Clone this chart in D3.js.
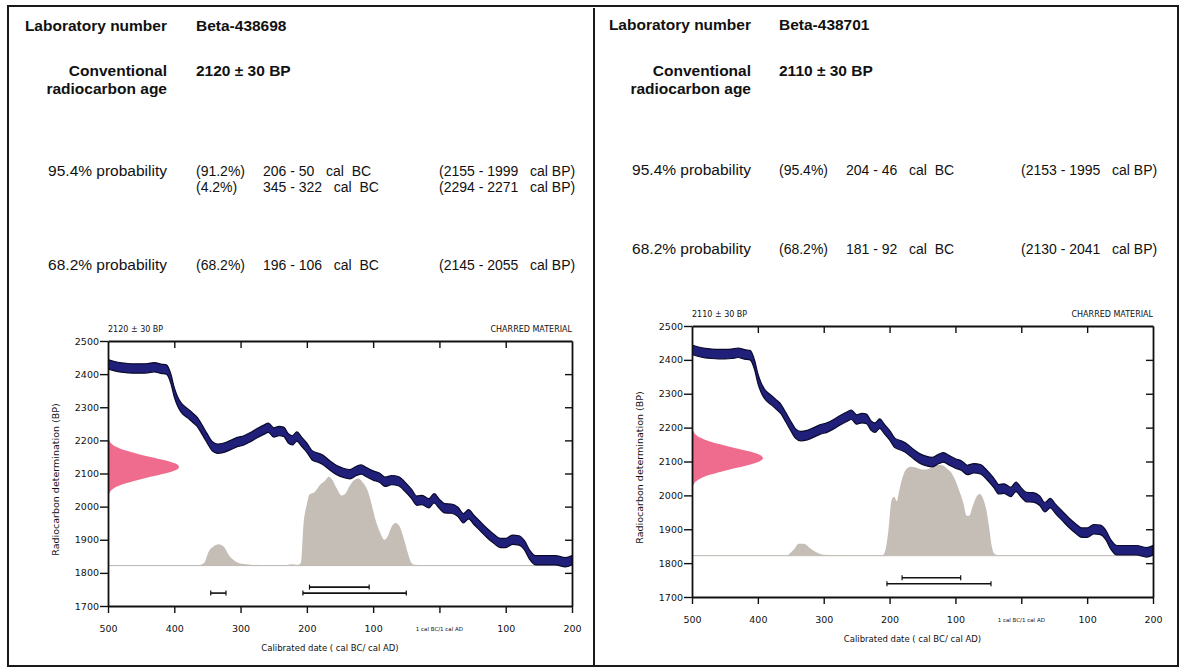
<!DOCTYPE html>
<html>
<head>
<meta charset="utf-8">
<script src="https://cdn.jsdelivr.net/npm/d3@7/dist/d3.min.js"></script>
<style>
  body { margin: 0; background: #fff; }
  svg text { white-space: pre; }
</style>
</head>
<body>
<svg id="chart" width="1186" height="671"></svg>
<script>
// Two radiocarbon calibration reports side by side (Beta-438698 / Beta-438701).

// ---- report text ----
const labNumbers = ['Beta-438698', 'Beta-438701'];
const ages = [2120, 2110];
const ageErr = 30;
const rows95 = [
  [{ pct: '91.2%', bc: [206, 50], bp: [2155, 1999] }, { pct: '4.2%', bc: [345, 322], bp: [2294, 2271] }],
  [{ pct: '95.4%', bc: [204, 46], bp: [2153, 1995] }]
];
const rows68 = [
  [{ pct: '68.2%', bc: [196, 106], bp: [2145, 2055] }],
  [{ pct: '68.2%', bc: [181, 92], bp: [2130, 2041] }]
];

// ---- axes ----
const xTicks = [-500, -400, -300, -200, -100, 0, 100, 200];
const yTicks = [1700, 1800, 1900, 2000, 2100, 2200, 2300, 2400, 2500];

// ---- calibration curve (cal year, BC negative; BP) ----
const calYears = [-500, -490, -480, -470, -460, -450, -440, -430, -420, -412, -405, -400, -395, -390, -380, -372, -365, -358, -350, -343,
  -335, -325, -315, -305, -295, -285, -275, -265, -258, -250, -242, -235, -228, -222, -215, -208, -200, -192, -182, -175,
  -165, -155, -145, -135, -125, -118, -110, -100, -90, -82, -72, -62, -52, -42, -34, -26, -16, -8, 0, 8,
  18, 28, 36, 44, 52, 62, 72, 82, 92, 100, 110, 120, 128, 136, 145, 160, 175, 190, 200];
const calBP = [2430, 2424, 2420, 2418, 2417, 2417, 2418, 2421, 2416, 2414, 2385, 2345, 2318, 2300, 2282, 2268, 2255, 2232, 2205, 2183,
  2175, 2178, 2186, 2195, 2200, 2210, 2222, 2232, 2238, 2224, 2228, 2226, 2206, 2200, 2212, 2196, 2178, 2155, 2147, 2140,
  2124, 2110, 2102, 2098, 2108, 2112, 2104, 2094, 2087, 2075, 2080, 2077, 2060, 2038, 2018, 2020, 2010, 2025, 2008, 1995,
  1994, 1984, 1965, 1977, 1960, 1940, 1920, 1903, 1890, 1890, 1900, 1898, 1884, 1855, 1838, 1838, 1838, 1832, 1838];
const calHalfWidth = 14;

// ---- calibrated probability, relative (year, p) ----
const distYearsA = [-365, -355, -348, -340, -333, -325, -317, -308, -298, -285, -260, -230, -222, -214, -209, -205, -200, -196, -188, -180,
  -172, -167, -162, -155, -148, -142, -136, -129, -122, -116, -108, -103, -97, -90, -83, -78, -72, -66, -60, -54, -48, -43, -38, -20, 5];
const distProbA = [0, 0.03, 0.16, 0.22, 0.24, 0.21, 0.11, 0.05, 0.02, 0.01, 0.005, 0.008, 0.015, 0.008, 0.03, 0.47, 0.69, 0.80, 0.83, 0.91,
  0.96, 1.00, 0.97, 0.87, 0.79, 0.81, 0.89, 0.96, 0.98, 0.94, 0.84, 0.71, 0.53, 0.38, 0.29, 0.33, 0.44, 0.48, 0.44, 0.31, 0.15, 0.04, 0.01, 0.004, 0];
const distYearsB = [-355, -345, -338, -330, -322, -312, -300, -280, -240, -210, -206, -202, -197, -193, -189, -185, -180, -175, -168, -160,
  -152, -144, -136, -128, -120, -113, -106, -99, -93, -88, -83, -79, -74, -68, -63, -58, -53, -49, -45, -41, -35, -10];
const distProbB = [0, 0.07, 0.13, 0.13, 0.09, 0.04, 0.01, 0.004, 0, 0.008, 0.07, 0.26, 0.61, 0.65, 0.60, 0.73, 0.87, 0.95, 0.98, 0.97,
  0.95, 0.95, 0.97, 1.00, 0.996, 0.96, 0.91, 0.81, 0.69, 0.58, 0.44, 0.44, 0.54, 0.65, 0.68, 0.63, 0.50, 0.32, 0.11, 0.02, 0.004, 0];

// ---- measured age distribution (BP offset from age, relative width) ----
const pinkOffsets = [-80, -70, -60, -50, -40, -30, -20, -10, 0, 10, 20, 30, 40, 50, 60, 70, 80];
const pinkWidths = [0.02, 0.05, 0.12, 0.24, 0.41, 0.60, 0.80, 0.95, 1, 0.95, 0.80, 0.60, 0.41, 0.24, 0.12, 0.05, 0.02];

const BASE_BP = 1822;     // baseline of the calibrated distribution
const DIST_H = 268;       // BP units for p = 1
const PINK_W = 71;        // px for the measured-age peak
const BAR95_BP = 1739, BAR68_BP = 1757;

const FONT = 'Liberation Sans, Arial, sans-serif';
const CFONT = 'DejaVu Sans, sans-serif';

const svg = d3.select('#chart');
svg.append('rect').attr('width', 1186).attr('height', 671).attr('fill', '#fff');

// frame + divider
svg.append('rect').attr('x', 8).attr('y', 6).attr('width', 1170).attr('height', 660)
  .attr('fill', 'none').attr('stroke', '#1a1a1a').attr('stroke-width', 2);
svg.append('line').attr('x1', 594).attr('x2', 594).attr('y1', 8).attr('y2', 666)
  .attr('stroke', '#1a1a1a').attr('stroke-width', 2);

const panels = [
  { labR: 167, colV: 196, colR: 263, colBP: 439, yLab: 31, yConv: 76, y95: 176, y68: 270,
    plot: { x0: 108, x1: 572, y0: 341, y1: 606 }, years: distYearsA, probs: distProbA },
  { labR: 751, colV: 779, colR: 846, colBP: 1021, yLab: 30, yConv: 76, y95: 175, y68: 254,
    plot: { x0: 692, x1: 1153, y0: 326, y1: 597 }, years: distYearsB, probs: distProbB }
];

function txt(g, x, y, s, opts = {}) {
  return g.append('text').attr('x', x).attr('y', y)
    .attr('font-family', opts.family || FONT)
    .attr('font-size', opts.size || 14)
    .attr('font-weight', opts.bold ? 700 : 400)
    .attr('text-anchor', opts.anchor || 'start')
    .attr('fill', '#111')
    .text(s);
}

panels.forEach((p, i) => {
  const g = svg.append('g');
  txt(g, p.labR, p.yLab, 'Laboratory number', { bold: true, size: 15.5, anchor: 'end' });
  txt(g, p.colV, p.yLab, labNumbers[i], { bold: true, size: 15.5 });
  txt(g, p.labR, p.yConv, 'Conventional', { bold: true, size: 15.5, anchor: 'end' });
  txt(g, p.labR, p.yConv + 18, 'radiocarbon age', { bold: true, size: 15.5, anchor: 'end' });
  txt(g, p.colV, p.yConv, `${ages[i]} ± ${ageErr} BP`, { bold: true, size: 15.5 });

  [[rows95[i], p.y95, '95.4% probability'], [rows68[i], p.y68, '68.2% probability']].forEach(([rows, y, label]) => {
    txt(g, p.labR, y, label, { size: 15.5, anchor: 'end' });
    rows.forEach((r, k) => {
      const yy = y + k * 16;
      txt(g, p.colV, yy, `(${r.pct})`);
      txt(g, p.colR, yy, `${r.bc[0]} - ${r.bc[1]}   cal  BC`);
      txt(g, p.colBP, yy, `(${r.bp[0]} - ${r.bp[1]}   cal BP)`);
    });
  });

  drawPlot(svg.append('g'), p, i);
});

function drawPlot(g, p, i) {
  const b = p.plot;
  const x = d3.scaleLinear().domain([-500, 200]).range([b.x0, b.x1]);
  const y = d3.scaleLinear().domain([1700, 2500]).range([b.y1, b.y0]);

  const clipId = 'clip' + i;
  g.append('clipPath').attr('id', clipId).append('rect')
    .attr('x', b.x0).attr('y', b.y0).attr('width', b.x1 - b.x0).attr('height', b.y1 - b.y0);
  const inner = g.append('g').attr('clip-path', `url(#${clipId})`);

  // baseline of calibrated distribution
  inner.append('line').attr('x1', b.x0).attr('x2', b.x1)
    .attr('y1', y(BASE_BP)).attr('y2', y(BASE_BP))
    .attr('stroke', '#b9b5b0').attr('stroke-width', 1);

  // calibrated distribution
  const dist = p.years.map((yr, k) => ({ yr, pr: p.probs[k] }));
  inner.append('path').datum(dist)
    .attr('fill', '#c4beb6')
    .attr('d', d3.area().x(d => x(d.yr)).y0(y(BASE_BP)).y1(d => y(BASE_BP + d.pr * DIST_H)).curve(d3.curveMonotoneX));

  // calibration curve band
  const cal = calYears.map((yr, k) => ({ yr, bp: calBP[k] }));
  inner.append('path').datum(cal)
    .attr('fill', '#20207a').attr('stroke', '#0a0a2e').attr('stroke-width', 1.2)
    .attr('d', d3.area().x(d => x(d.yr)).y0(d => y(d.bp - calHalfWidth)).y1(d => y(d.bp + calHalfWidth)).curve(d3.curveMonotoneX));

  // measured age
  const pink = pinkOffsets.map((o, k) => ({ o, w: pinkWidths[k] }));
  inner.append('path').datum(pink)
    .attr('fill', '#f06c8e')
    .attr('d', d3.area().y(d => y(ages[i] + d.o)).x0(b.x0).x1(d => b.x0 + d.w * PINK_W).curve(d3.curveMonotoneY));

  // probability range bars
  const bars = [];
  rows95[i].forEach(r => bars.push({ a: -r.bc[0], b: -r.bc[1], lvl: BAR95_BP }));
  rows68[i].forEach(r => bars.push({ a: -r.bc[0], b: -r.bc[1], lvl: BAR68_BP }));
  const bg = g.append('g').attr('stroke', '#111').attr('stroke-width', 1.6);
  bars.forEach(d => {
    bg.append('line').attr('x1', x(d.a)).attr('x2', x(d.b)).attr('y1', y(d.lvl)).attr('y2', y(d.lvl));
    [d.a, d.b].forEach(v => bg.append('line').attr('x1', x(v)).attr('x2', x(v))
      .attr('y1', y(d.lvl) - 2.5).attr('y2', y(d.lvl) + 2.5).attr('stroke-width', 1.2));
  });

  // axes
  const styleAxis = sel => {
    sel.selectAll('.domain').attr('stroke', '#111').attr('stroke-width', 1.8);
    sel.selectAll('.tick line').attr('stroke', '#111').attr('stroke-width', 1.4);
    sel.selectAll('.tick text').attr('fill', '#111').attr('font-family', CFONT);
  };
  g.append('g').attr('transform', `translate(${b.x0},0)`)
    .call(d3.axisLeft(y).tickValues(yTicks).tickSize(8).tickSizeOuter(0).tickPadding(1).tickFormat(d3.format('d')))
    .call(styleAxis).call(s => s.selectAll('.tick text').attr('font-size', 9.5));
  g.append('g').attr('transform', `translate(0,${b.y1})`)
    .call(d3.axisBottom(x).tickValues(xTicks).tickSize(7).tickSizeOuter(0).tickPadding(12)
      .tickFormat(d => d === 0 ? '' : String(Math.abs(d))))
    .call(styleAxis).call(s => s.selectAll('.tick text').attr('font-size', 9.5));
  g.append('g').attr('transform', `translate(0,${b.y0})`)
    .call(d3.axisTop(x).tickValues(xTicks.slice(1, -1)).tickSize(-7).tickSizeOuter(0).tickFormat(''))
    .call(styleAxis);
  g.append('g').attr('transform', `translate(${b.x1},0)`)
    .call(d3.axisRight(y).tickValues(yTicks.slice(1, -1)).tickSize(-7).tickSizeOuter(0).tickFormat(''))
    .call(styleAxis);

  txt(g, x(0), b.y1 + 25, '1 cal BC/1 cal AD', { family: CFONT, size: 5.5, anchor: 'middle' });
  txt(g, (b.x0 + b.x1) / 2 - 10, b.y1 + 45, 'Calibrated date ( cal BC/ cal AD)', { family: CFONT, size: 8.5, anchor: 'middle' });
  g.append('text')
    .attr('transform', `translate(${b.x0 - 49},${(b.y0 + b.y1) / 2 + 6}) rotate(-90)`)
    .attr('text-anchor', 'middle').attr('font-family', CFONT).attr('font-size', 9.5).attr('fill', '#111')
    .text('Radiocarbon determination (BP)');

  txt(g, b.x0, b.y0 - 9, `${ages[i]} ± ${ageErr} BP`, { family: CFONT, size: 8 });
  txt(g, b.x1, b.y0 - 9, 'CHARRED MATERIAL', { family: CFONT, size: 8, anchor: 'end' });
}
</script>
</body>
</html>
